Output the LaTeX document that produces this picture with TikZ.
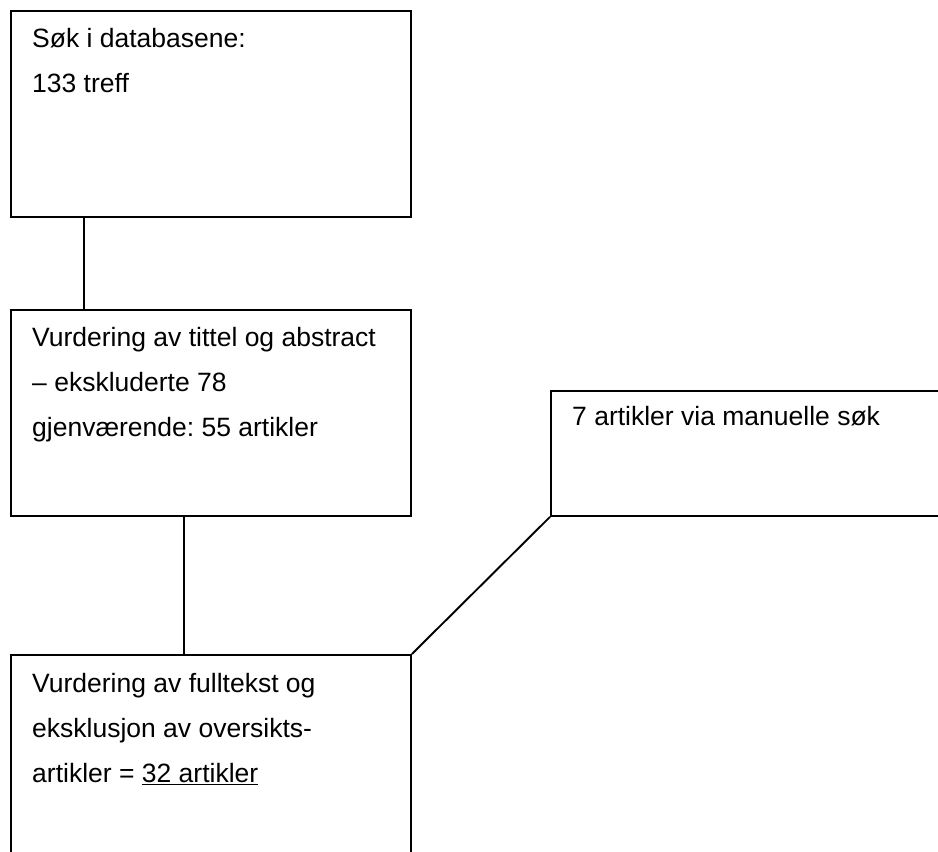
\documentclass[tikz,border=0pt]{standalone}
\usepackage{fontspec}
\setmainfont{Liberation Sans}
\usetikzlibrary{positioning}

\tikzset{
    boks/.style={draw, line width=1.9pt, rectangle, inner sep=0pt,
        minimum width=400pt, anchor=north west},
    tekst/.style={anchor=north west, inner sep=0pt, align=left,
        font=\fontsize{26.5}{45}\selectfont\frenchspacing}
}

\begin{document}
\begin{tikzpicture}[x=1pt, y=-1pt]
            \pgfmathsetmacro{\dx}{22}
            \pgfmathsetmacro{\dy}{18}

            \useasboundingbox (0, 0) rectangle (938, 852);
            \clip (0, 0) rectangle (938, 852);

            \node[boks, minimum height=206pt] (sok) at (10, 10) {};
            \node[tekst] (soktekst) at ([xshift=\dx pt, yshift=-\dy pt]sok.north west)
                {Søk i databasene:\\133 treff};

            \node[boks, minimum height=206pt] (tittel) at (10, 309) {};
            \node[tekst] (titteltekst) at ([xshift=\dx pt, yshift=-\dy pt]tittel.north west)
                {Vurdering av tittel og abstract\\– ekskluderte 78\\gjenværende: 55 artikler};

            \node[boks, minimum height=125pt] (manuell) at (550, 390) {};
            \node[tekst] (manuelltekst) at ([xshift=\dx pt, yshift=-16pt]manuell.north west)
                {7 artikler via manuelle søk};

            \node[boks, minimum height=240pt] (fulltekst) at (10, 654) {};
            \node[tekst] (fulltekstt) at ([xshift=\dx pt, yshift=-19pt]fulltekst.north west)
                {Vurdering av fulltekst og\\eksklusjon av oversikts-\\artikler = \underline{32 artikler}};

            \draw[line width=1.9pt] ([xshift=74pt]sok.south west)
                -- ([xshift=74pt]sok.south west |- tittel.north);
            \draw[line width=1.9pt] ([xshift=174pt]tittel.south west)
                -- ([xshift=174pt]tittel.south west |- fulltekst.north);
            \draw[line width=1.9pt] (fulltekst.north east) -- (manuell.south west);
        \end{tikzpicture}
\end{document}
